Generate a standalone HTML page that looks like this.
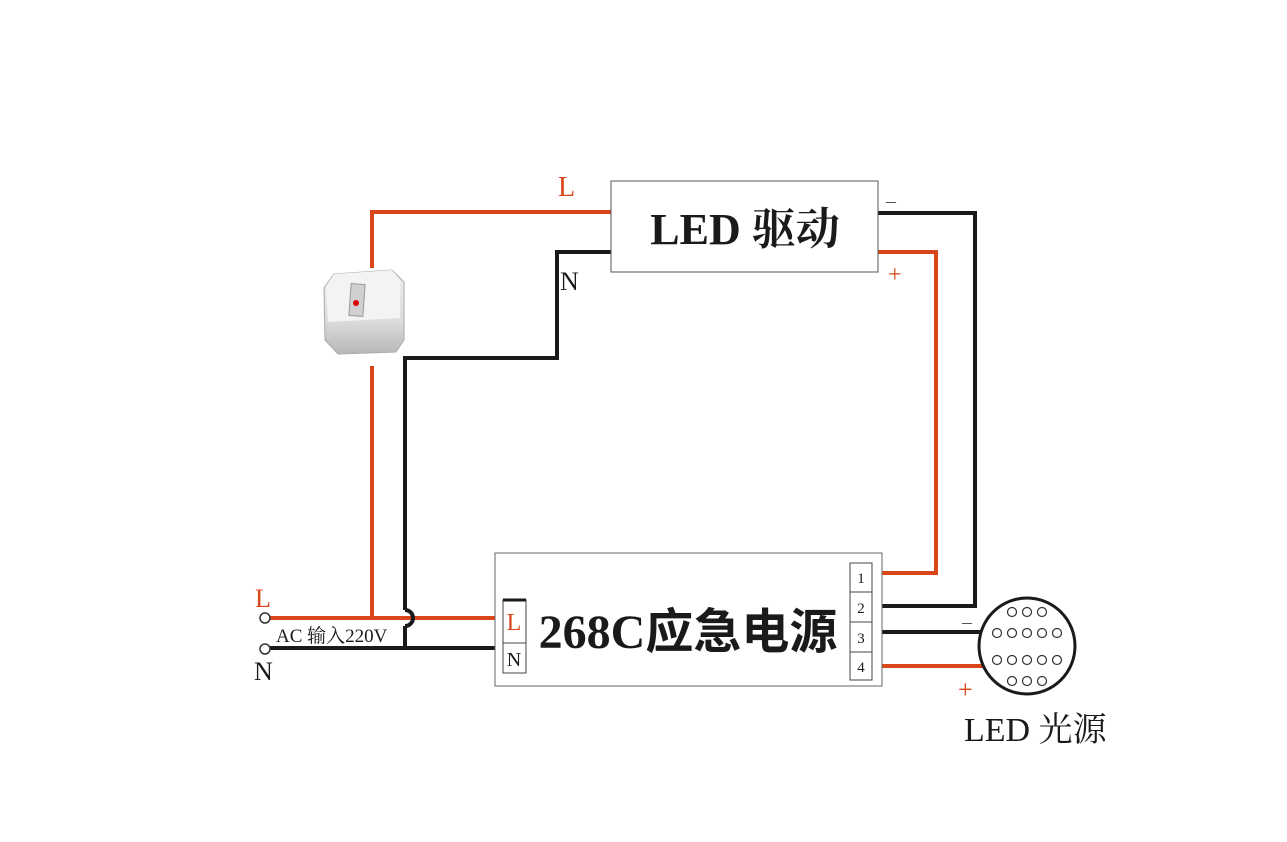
<!DOCTYPE html>
<html><head><meta charset="utf-8"><style>body{margin:0;background:#fff}svg{display:block}</style></head><body>
<svg width="1287" height="842" viewBox="0 0 1287 842" xmlns="http://www.w3.org/2000/svg" font-family="Liberation Serif, Noto Serif CJK SC, serif">
<defs>
<linearGradient id="sw" x1="0" y1="0" x2="0" y2="1"><stop offset="0" stop-color="#f0f0f0"/><stop offset="0.6" stop-color="#dcdcdc"/><stop offset="1" stop-color="#b8b8b8"/></linearGradient>
</defs>
<rect width="1287" height="842" fill="#fff"/>
<g fill="none" stroke-width="4">
<polyline points="611,212 372,212 372,268" stroke="#d9461a"/>
<polyline points="372,366 372,618" stroke="#d9461a"/>
<line x1="270" y1="618" x2="500" y2="618" stroke="#d9461a"/>
<polyline points="611,252 557,252 557,358 405,358 405,610" stroke="#1a1a1a"/>
<path d="M405,610 a8,8 0 0 1 0,16" stroke="#1a1a1a"/>
<line x1="405" y1="626" x2="405" y2="648" stroke="#1a1a1a"/>
<line x1="270" y1="648" x2="500" y2="648" stroke="#1a1a1a"/>
<polyline points="872,573 936,573 936,252 878,252" stroke="#d9461a"/>
<polyline points="872,606 975,606 975,213 878,213" stroke="#1a1a1a"/>
<line x1="872" y1="632" x2="982" y2="632" stroke="#1a1a1a"/>
<line x1="872" y1="666" x2="984" y2="666" stroke="#d9461a"/>
</g>
<rect x="611" y="181" width="267" height="91" fill="#fff" stroke="#555" stroke-width="1"/>
<text x="745" y="244" font-size="44" font-weight="bold" text-anchor="middle" fill="#1a1a1a">LED 驱动</text>
<text x="558" y="196" font-size="28" fill="#d9461a">L</text>
<text x="560" y="290" font-size="26" fill="#1a1a1a">N</text>
<text x="886" y="207" font-size="20" fill="#555">–</text>
<text x="888" y="282" font-size="24" fill="#d9461a">+</text>
<!-- switch -->
<path d="M334,274 L392,270 L404,282 L404,340 L396,352 L338,354 L325,340 L324,288 Z" fill="url(#sw)" stroke="#aaa"/>
<path d="M334,274 L392,270 L400,280 L400,318 L328,322 L326,286 Z" fill="#f3f3f3"/>
<rect x="350" y="284" width="14" height="32" fill="#d0d0d0" stroke="#999" transform="rotate(4 357 300)"/>
<circle cx="356" cy="303" r="3" fill="#d00"/>
<rect x="495" y="553" width="387" height="133" fill="#fff" stroke="#666" stroke-width="1"/>
<text x="688" y="648" font-size="48" font-weight="bold" text-anchor="middle" fill="#1a1a1a" font-family="Liberation Serif, Noto Sans CJK SC, serif">268C应急电源</text>
<g stroke="#444" stroke-width="1" fill="#fff">
<rect x="503" y="600" width="23" height="43"/><rect x="503" y="643" width="23" height="30"/>
<rect x="850" y="563" width="22" height="29"/><rect x="850" y="592" width="22" height="30"/>
<rect x="850" y="622" width="22" height="30"/><rect x="850" y="652" width="22" height="28"/>
</g>
<line x1="503" y1="600" x2="526" y2="600" stroke="#1a1a1a" stroke-width="3"/>
<text x="514" y="630" font-size="24" fill="#d9461a" text-anchor="middle">L</text>
<text x="514" y="666" font-size="20" fill="#1a1a1a" text-anchor="middle">N</text>
<g font-size="15" fill="#1a1a1a" text-anchor="middle">
<text x="861" y="583">1</text><text x="861" y="613">2</text><text x="861" y="643">3</text><text x="861" y="672">4</text>
</g>
<circle cx="265" cy="618" r="5" fill="#fff" stroke="#333" stroke-width="1.5"/>
<circle cx="265" cy="649" r="5" fill="#fff" stroke="#333" stroke-width="1.5"/>
<text x="255" y="607" font-size="26" fill="#d9461a">L</text>
<text x="254" y="680" font-size="26" fill="#1a1a1a">N</text>
<text x="276" y="642" font-size="19" fill="#1a1a1a">AC 输入220V</text>
<circle cx="1027" cy="646" r="48" fill="#fff" stroke="#1a1a1a" stroke-width="3"/>
<g fill="none" stroke="#333" stroke-width="1.2">
<circle cx="1012" cy="612" r="4.5"/><circle cx="1027" cy="612" r="4.5"/><circle cx="1042" cy="612" r="4.5"/>
<circle cx="997" cy="633" r="4.5"/><circle cx="1012" cy="633" r="4.5"/><circle cx="1027" cy="633" r="4.5"/><circle cx="1042" cy="633" r="4.5"/><circle cx="1057" cy="633" r="4.5"/>
<circle cx="997" cy="660" r="4.5"/><circle cx="1012" cy="660" r="4.5"/><circle cx="1027" cy="660" r="4.5"/><circle cx="1042" cy="660" r="4.5"/><circle cx="1057" cy="660" r="4.5"/>
<circle cx="1012" cy="681" r="4.5"/><circle cx="1027" cy="681" r="4.5"/><circle cx="1042" cy="681" r="4.5"/>
</g>
<text x="962" y="628" font-size="20" fill="#555">–</text>
<text x="958" y="698" font-size="26" fill="#d9461a">+</text>
<text x="964" y="741" font-size="34" fill="#1a1a1a">LED 光源</text>
</svg>
</body></html>
